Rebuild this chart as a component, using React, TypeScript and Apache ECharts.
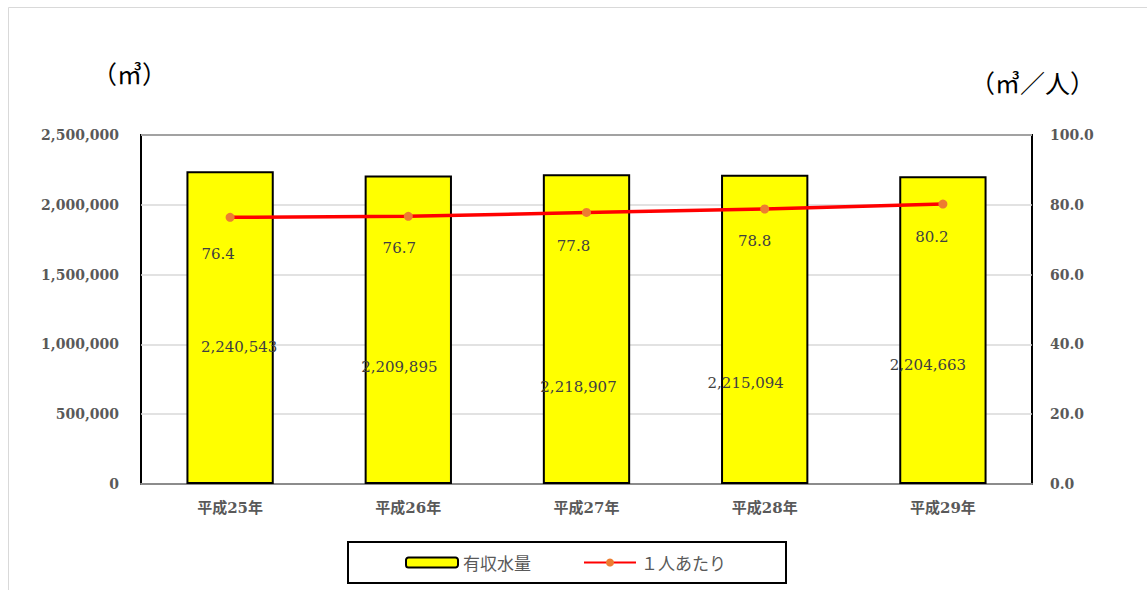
import React, { useEffect, useRef } from "react";
import * as echarts from "echarts";

const categories = ["平成25年", "平成26年", "平成27年", "平成28年", "平成29年"];
const waterVolume = [2240543, 2209895, 2218907, 2215094, 2204663];
const perPerson = [76.4, 76.7, 77.8, 78.8, 80.2];
const barLabelOffsets = [[9, 0], [-9, 0], [-8, 0], [-19, 0], [-15, 0]];
const barLabelY = [344, 364, 384, 380, 362];
const lineLabelOffsets = [[-12, 20], [-9, 15], [-13, 17], [-10, 15], [-11, 16]];

const serif = "'DejaVu Serif', 'Liberation Serif', 'Noto Sans CJK JP', serif";

export default function App() {
  const ref = useRef<HTMLDivElement>(null);
  useEffect(() => {
    if (!ref.current) return;
    const chart = echarts.init(ref.current, null, { renderer: "svg" });
    const gridTop = 135;
    const gridBottomY = 484;
    const plotH = gridBottomY - gridTop;
    chart.setOption({
      animation: false,
      backgroundColor: "#ffffff",
      graphic: [
        {
          type: "rect",
          shape: { x: 8.5, y: 7.5, width: 1160, height: 620 },
          style: { fill: "none", stroke: "#d9d9d9", lineWidth: 1 },
          silent: true,
        },
        {
          type: "text",
          x: 92,
          y: 63,
          style: { text: "（㎥）", font: `25px ${serif}`, fill: "#000000" },
        },
        {
          type: "text",
          x: 970,
          y: 72,
          style: { text: "（㎥／人）", font: `25px ${serif}`, fill: "#000000" },
        },
      ],
      legend: {
        bottom: 7,
        left: 348,
        data: ["有収水量", "１人あたり"],
        borderColor: "#000000",
        borderWidth: 2,
        padding: [12, 60, 12, 57],
        itemGap: 52,
        itemWidth: 52,
        itemHeight: 10,
        textStyle: { color: "#595959", fontSize: 17, fontFamily: "'Noto Sans CJK JP', sans-serif" },
      },
      grid: {
        left: 141,
        right: 115,
        top: gridTop,
        bottom: 590 - gridBottomY,
        show: true,
        borderColor: "#000000",
        borderWidth: 2,
        backgroundColor: "transparent",
        containLabel: false,
      },
      xAxis: {
        type: "category",
        data: categories,
        axisTick: { show: false },
        axisLine: { show: true, lineStyle: { color: "#8c8c8c", width: 2 } },
        axisLabel: {
          color: "#595959",
          fontWeight: "bold",
          fontSize: 15,
          fontFamily: serif,
          margin: 16,
        },
      },
      yAxis: [
        {
          type: "value",
          min: 0,
          max: 2500000,
          interval: 500000,
          axisLine: { show: false },
          axisTick: { show: false },
          splitLine: { lineStyle: { color: "#d9d9d9", width: 1.5 } },
          axisLabel: {
            color: "#595959",
            fontWeight: "bold",
            fontSize: 14,
            fontFamily: serif,
            margin: 22,
            formatter: (v: number) => v.toLocaleString("en-US"),
          },
        },
        {
          type: "value",
          min: 0,
          max: 100,
          interval: 20,
          axisLine: { show: false },
          axisTick: { show: false },
          splitLine: { show: false },
          axisLabel: {
            color: "#595959",
            fontWeight: "bold",
            fontSize: 14,
            fontFamily: serif,
            margin: 18,
            formatter: (v: number) => v.toFixed(1),
          },
        },
      ],
      series: [
        {
          name: "有収水量",
          type: "bar",
          yAxisIndex: 0,
          barWidth: "49%",
          itemStyle: { color: "#ffff00", borderColor: "#000000", borderWidth: 2 },
          data: waterVolume.map((v, i) => {
            const barTop = gridBottomY - (v / 2500000) * plotH;
            return {
              value: v,
              label: {
                show: true,
                position: "insideTop",
                offset: [barLabelOffsets[i][0], barLabelY[i] - barTop - 10],
                formatter: (p: any) => Number(p.value).toLocaleString("en-US"),
                color: "#404040",
                fontSize: 15,
                fontFamily: serif,
              },
            };
          }),
          z: 2,
        },
        {
          name: "１人あたり",
          type: "line",
          yAxisIndex: 1,
          symbol: "circle",
          symbolSize: 9,
          lineStyle: { color: "#ff0000", width: 3.5 },
          itemStyle: { color: "#ed7d31" },
          data: perPerson.map((v, i) => ({
            value: v,
            label: {
              show: true,
              position: "bottom",
              offset: lineLabelOffsets[i],
              formatter: (p: any) => Number(p.value).toFixed(1),
              color: "#404040",
              fontSize: 15,
              fontFamily: serif,
            },
          })),
          z: 5,
        },
      ],
    });
    return () => chart.dispose();
  }, []);
  return (
    <div
      ref={ref}
      style={{ position: "fixed", left: 0, top: 0, width: 1147, height: 590 }}
    />
  );
}
